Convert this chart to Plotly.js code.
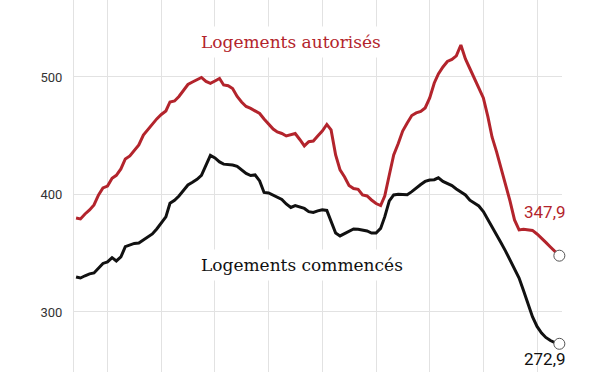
<!DOCTYPE html>
<html>
<head>
<meta charset="utf-8">
<script src="https://cdn.plot.ly/plotly-3.0.1.min.js"></script>
<style>html,body{margin:0;padding:0;background:#fff;}#chart{width:600px;height:372px;}</style>
</head>
<body>
<div id="chart"></div>
<script>
// Monthly dates, June 2015 to June 2024 (rolling 12-month totals, thousands)
const startYear = 2015, startMonth = 6, nMonths = 109;
const dates = [];
for (let i = 0; i < nMonths; i++) {
  const m = startMonth - 1 + i;
  const y = startYear + Math.floor(m / 12);
  const mm = (m % 12) + 1;
  dates.push(y + '-' + (mm < 10 ? '0' : '') + mm + '-01');
}

const autorises = [
  380.0, 379.2, 383.4, 386.8, 391.1, 399.6, 405.5, 407.2, 413.8, 416.3,
  421.7, 430.2, 432.8, 437.9, 442.1, 450.6, 455.3, 460.0, 464.3, 468.1,
  471.1, 478.7, 479.6, 483.4, 488.1, 493.6, 495.7, 497.9, 499.6, 496.2,
  494.5, 496.6, 498.7, 493.2, 492.6, 490.2, 483.4, 478.7, 474.9, 473.2,
  471.1, 468.9, 464.3, 460.4, 455.7, 453.2, 451.9, 449.8, 450.6, 451.9,
  446.8, 441.3, 444.9, 445.5, 449.8, 454.0, 459.6, 454.9, 433.6, 420.9,
  414.9, 407.7, 405.1, 404.4, 399.6, 398.7, 395.3, 392.3, 390.6, 398.7,
  416.6, 433.6, 443.4, 454.0, 460.9, 467.2, 469.4, 470.6, 473.6, 482.1,
  494.9, 502.6, 508.5, 513.2, 514.9, 517.9, 527.2, 515.3, 507.2, 499.1,
  491.5, 482.1, 466.0, 448.9, 436.2, 422.6, 408.9, 394.5, 378.3, 369.8,
  370.4, 369.8, 369.4, 366.4, 363.0, 359.2, 355.3, 351.9, 347.9
];

const commences = [
  329.8, 328.9, 330.8, 332.4, 333.2, 337.5, 341.3, 342.6, 346.2, 343.4,
  346.8, 355.6, 357.0, 358.3, 358.7, 361.3, 363.8, 366.4, 370.6, 376.2,
  380.9, 392.5, 395.1, 398.7, 403.4, 408.1, 410.4, 412.9, 416.2, 425.5,
  433.2, 431.1, 427.7, 425.8, 425.4, 425.1, 424.0, 420.6, 417.9, 416.1,
  416.6, 411.5, 401.7, 401.3, 399.6, 397.9, 395.8, 391.9, 388.9, 390.5,
  389.1, 388.1, 385.4, 384.7, 386.0, 387.0, 386.4, 377.5, 367.2, 364.7,
  366.8, 368.9, 370.6, 370.4, 369.8, 368.9, 367.2, 367.2, 371.1, 380.9,
  394.5, 399.6, 400.2, 400.1, 399.8, 402.4, 405.7, 408.5, 411.1, 412.3,
  412.6, 414.2, 411.1, 409.5, 407.5, 404.7, 402.1, 399.6, 395.1, 392.8,
  390.2, 385.5, 378.9, 372.2, 365.5, 358.9, 351.8, 344.1, 337.5, 328.9,
  318.3, 306.8, 296.0, 287.7, 282.1, 278.3, 275.7, 274.0, 272.9
];

const yTicks = [300, 400, 500];
const yTickLabels = ['300', '400', '500'];
const labelAutorises = 'Logements autorisés';
const labelCommences = 'Logements commencés';
const fmt = v => v.toFixed(1).replace('.', ',');

const RED = '#b3242c';
const BLACK = '#111111';
const last = nMonths - 1;

const traces = [
  {x: dates, y: autorises, type: 'scatter', mode: 'lines',
   line: {color: RED, width: 3}, hoverinfo: 'skip'},
  {x: dates, y: commences, type: 'scatter', mode: 'lines',
   line: {color: BLACK, width: 3}, hoverinfo: 'skip'},
  {x: [dates[last], dates[last]], y: [autorises[last], commences[last]],
   type: 'scatter', mode: 'markers', cliponaxis: false,
   marker: {size: 11, color: '#ffffff', line: {color: '#555555', width: 1}},
   hoverinfo: 'skip'}
];

const layout = {
  width: 600, height: 372,
  margin: {l: 74, r: 38, t: 0, b: 0},
  paper_bgcolor: '#ffffff', plot_bgcolor: '#ffffff',
  showlegend: false,
  xaxis: {
    type: 'date',
    range: ['2015-05-18', '2024-06-19'],
    tick0: '2016-01-01', dtick: 'M12',
    showgrid: true, gridcolor: '#e2e2e2', gridwidth: 1,
    showticklabels: false, ticks: '', zeroline: false, showline: false
  },
  yaxis: {
    range: [248.9, 565.5],
    tickvals: yTicks, ticktext: yTickLabels,
    showgrid: true, gridcolor: '#e2e2e2', gridwidth: 1,
    zeroline: false, showline: true, linecolor: '#e2e2e2', linewidth: 1,
    ticks: '', ticklabelstandoff: 8,
    tickfont: {family: 'Roboto, Arial, sans-serif', size: 13, color: '#333333'}
  },
  annotations: [
    {text: labelAutorises, xref: 'paper', yref: 'paper', x: 0.445, y: 0.887,
     xanchor: 'center', yanchor: 'middle', showarrow: false,
     bgcolor: '#ffffff', borderpad: 5,
     font: {family: 'DejaVu Serif, serif', size: 17, color: RED}},
    {text: labelCommences, xref: 'paper', yref: 'paper', x: 0.467, y: 0.288,
     xanchor: 'center', yanchor: 'middle', showarrow: false,
     bgcolor: '#ffffff', borderpad: 5,
     font: {family: 'DejaVu Serif, serif', size: 17, color: BLACK}},
    {text: fmt(autorises[last]), xref: 'paper', yref: 'paper', x: 0.965, y: 0.43,
     xanchor: 'center', yanchor: 'middle', showarrow: false,
     font: {family: 'Roboto, Arial, sans-serif', size: 17, color: RED}},
    {text: fmt(commences[last]), xref: 'paper', yref: 'paper', x: 0.965, y: 0.003,
     xanchor: 'center', yanchor: 'bottom', showarrow: false,
     font: {family: 'Roboto, Arial, sans-serif', size: 17, color: BLACK}}
  ]
};

Plotly.newPlot('chart', traces, layout, {staticPlot: true, displayModeBar: false});
</script>
</body>
</html>
